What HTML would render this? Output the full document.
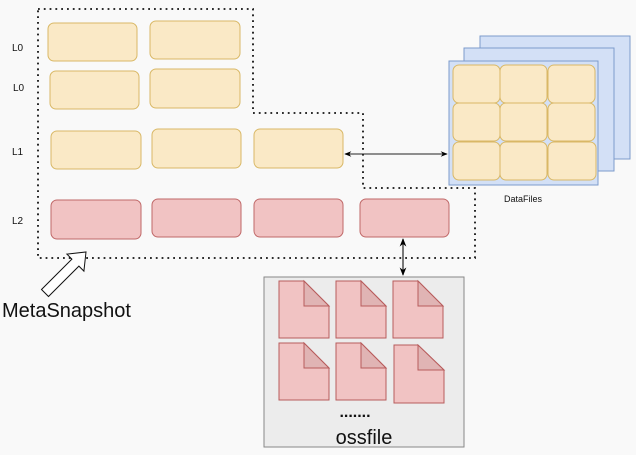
<!DOCTYPE html>
<html><head><meta charset="utf-8"><style>
html,body{margin:0;padding:0;background:#f9f9f9;}
svg{display:block;font-family:"Liberation Sans",Helvetica,sans-serif;}
</style></head><body>
<svg width="636" height="455" viewBox="0 0 636 455" xmlns="http://www.w3.org/2000/svg">
<rect width="636" height="455" fill="#f9f9f9"/>
<defs>
<marker id="ah" viewBox="0 0 10 10" refX="9" refY="5" markerWidth="7" markerHeight="7" orient="auto-start-reverse"><path d="M0,1 L10,5 L0,9 L3,5 z" fill="#000"/></marker>
</defs>
<polyline points="38,9 253,9 253,113 363,113 363,188 475,188 475,258 38,258 38,9" fill="none" stroke="#111" stroke-width="1.8" stroke-dasharray="1.8,4"/>
<g fill="#fae9c6" stroke="#d9b866" stroke-width="1">
<rect x="48" y="23" width="89" height="38" rx="6"/>
<rect x="150" y="21" width="90" height="38" rx="6"/>
<rect x="50" y="71" width="89" height="38" rx="6"/>
<rect x="150" y="69" width="90" height="39" rx="6"/>
<rect x="51" y="131" width="90" height="38" rx="6"/>
<rect x="152" y="129" width="89" height="39" rx="6"/>
<rect x="254" y="129" width="89" height="39" rx="6"/>
</g>
<g fill="#f1c3c3" stroke="#c06868" stroke-width="1">
<rect x="51" y="200" width="90" height="39" rx="6"/>
<rect x="152" y="199" width="89" height="38" rx="6"/>
<rect x="254" y="199" width="89" height="38" rx="6"/>
<rect x="360" y="199" width="89" height="38" rx="6"/>
</g>
<g font-size="10" fill="#111">
<text x="12" y="51">L0</text>
<text x="13" y="91">L0</text>
<text x="12" y="155">L1</text>
<text x="12" y="224">L2</text>
</g>
<line x1="345" y1="154" x2="447" y2="154" stroke="#222" stroke-width="1" marker-start="url(#ah)" marker-end="url(#ah)"/>
<line x1="403" y1="239" x2="403" y2="275" stroke="#222" stroke-width="1.2" marker-start="url(#ah)" marker-end="url(#ah)"/>
<g fill="#d3e0f6" stroke="#7d9bcc" stroke-width="1">
<rect x="480" y="36" width="150" height="123"/>
<rect x="464" y="48" width="150" height="123"/>
<rect x="449" y="61" width="149" height="124"/>
</g>
<g fill="#fae9c6" stroke="#d9b866" stroke-width="1">
<rect x="453" y="65" width="47" height="38" rx="6"/>
<rect x="500" y="65" width="47" height="38" rx="6"/>
<rect x="548" y="65" width="47" height="38" rx="6"/>
<rect x="453" y="103" width="47" height="38" rx="6"/>
<rect x="500" y="103" width="47" height="38" rx="6"/>
<rect x="548" y="103" width="47" height="38" rx="6"/>
<rect x="453" y="142" width="47" height="38" rx="6"/>
<rect x="500" y="142" width="47" height="38" rx="6"/>
<rect x="548" y="142" width="48" height="38" rx="6"/>
</g>
<text x="523" y="202" font-size="9" text-anchor="middle" fill="#111">DataFiles</text>
<rect x="264" y="277" width="200" height="170" fill="#ececec" stroke="#888" stroke-width="1"/>
<g fill="#f1c3c3" stroke="#b85c5c" stroke-width="1">
<path d="M279,281 h25 l25,25 v32 h-50 z"/>
<path d="M336,281 h25 l25,25 v32 h-50 z"/>
<path d="M393,281 h25 l25,25 v32 h-50 z"/>
<path d="M279,343 h25 l25,25 v32 h-50 z"/>
<path d="M336,343 h25 l25,25 v32 h-50 z"/>
<path d="M394,345 h24 l26,25 v33 h-50 z"/>
</g>
<g fill="#e0b4b4" stroke="#b85c5c" stroke-width="1">
<path d="M304,281 v25 h25 z"/>
<path d="M361,281 v25 h25 z"/>
<path d="M418,281 v25 h25 z"/>
<path d="M304,343 v25 h25 z"/>
<path d="M361,343 v25 h25 z"/>
<path d="M418,345 v25 h26 z"/>
</g>
<text x="355" y="417" font-size="16" font-weight="bold" text-anchor="middle" fill="#111">.......</text>
<text x="364" y="444" font-size="20" text-anchor="middle" fill="#111">ossfile</text>
<polygon points="41.5,289.5 71.9,259.1 66.9,254.1 86,252 83.9,271.1 78.9,266.1 48.5,296.5" fill="#fff" stroke="#111" stroke-width="1"/>
<text x="2" y="317" font-size="20" fill="#111">MetaSnapshot</text>
</svg>
</body></html>
